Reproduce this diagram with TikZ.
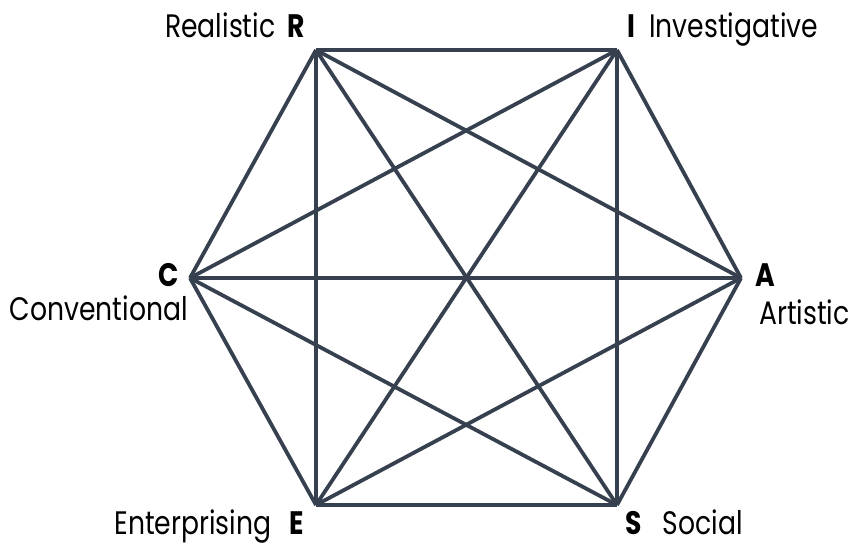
\documentclass[tikz,border=0pt]{standalone}
\usepackage{fontspec}
\setmainfont[FakeStretch=0.82]{Poppins}
\definecolor{edgecol}{HTML}{36404F}
\tikzset{
  edge/.style={draw=edgecol, line width=3.8pt},
  lbl/.style={inner sep=0pt, font=\fontsize{32.5}{36}\selectfont, text=black},
}
\begin{document}
\begin{tikzpicture}[x=1pt,y=1pt]
\useasboundingbox (0,0) rectangle (854,545);
\coordinate (R) at (316,495);
\coordinate (I) at (617,495);
\coordinate (A) at (741,267);
\coordinate (S) at (617,40);
\coordinate (E) at (316,40);
\coordinate (C) at (190,267);
\foreach \a/\b in {R/I,I/A,A/S,S/E,E/C,C/R,R/A,R/S,R/E,I/S,I/E,I/C,A/E,A/C,S/C}{
  \draw[edge] (\a) -- (\b);
}
\node[lbl, anchor=base east] (lR) at (305,507) {Realistic\hspace{12pt}\textbf{R}};
\node[lbl, anchor=base west] (lI) at (627,507) {\textbf{I}\hspace{14pt}Investigative};
\node[lbl, anchor=base east] (lC) at (179,258) {\textbf{C}};
\node[lbl, anchor=base east] (lC2) at (188,224) {Conventional};
\node[lbl, anchor=base west] (lA) at (755,258) {\textbf{A}};
\node[lbl, anchor=base west] (lA2) at (759,220) {Artistic};
\node[lbl, anchor=base east] (lE) at (304,10) {Enterprising\hspace{18pt}\textbf{E}};
\node[lbl, anchor=base west] (lS) at (625,10) {\textbf{S}\hspace{21pt}Social};
\end{tikzpicture}
\end{document}
